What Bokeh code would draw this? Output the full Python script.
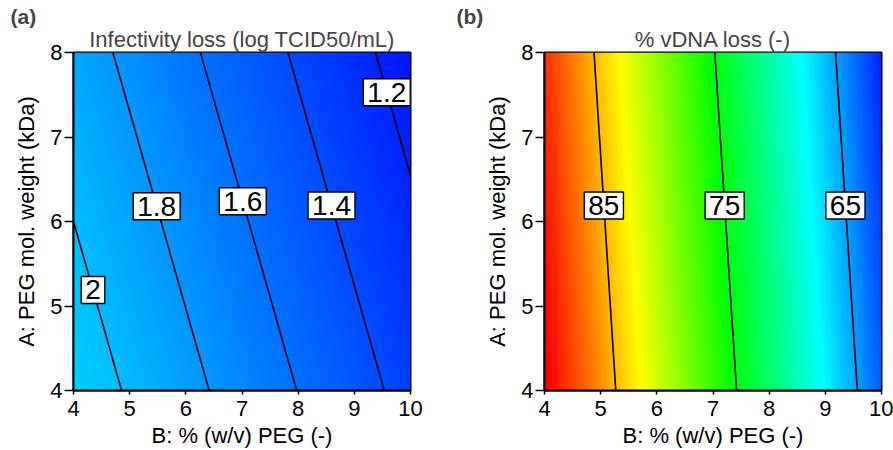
import numpy as np
from bokeh.plotting import figure
from bokeh.models import Range1d, FixedTicker, Label, Title
from bokeh.layouts import row
from bokeh.embed import file_html
from bokeh.resources import INLINE

# ---------------- data ----------------
x_ticks = [4, 5, 6, 7, 8, 9, 10]
y_ticks = [4, 5, 6, 7, 8]
x_edges = [4.0, 10.0]          # B: % (w/v) PEG
y_edges = [4.0, 8.0]           # A: PEG mol. weight (kDa)

# response at the design-space corners: rows = y (4, 8), cols = x (4, 10)
infect_corners = [[2.11, 1.34],
                  [1.89, 1.12]]
infect_levels = [2.0, 1.8, 1.6, 1.4, 1.2]
infect_level_text = ["2", "1.8", "1.6", "1.4", "1.2"]
infect_color_range = [1.01, 6.37]

vdna_corners = [[90.9, 63.0],
                [89.1, 61.2]]
vdna_levels = [85, 75, 65]
vdna_level_text = ["85", "75", "65"]
vdna_color_range = [60.2, 90.5]

# label placement (A value where each contour label sits)
infect_label_y = [5.19, 6.18, 6.24, 6.19, 7.53]
vdna_label_y = [6.19, 6.19, 6.19]

FONT = "Liberation Sans"
STOPS = np.array([(0, 0, 255), (0, 255, 255), (0, 255, 0), (255, 255, 0), (255, 0, 0)], float)


def field(corners, xx, yy):
    c = np.asarray(corners, float)
    tx = (xx - x_edges[0]) / (x_edges[1] - x_edges[0])
    ty = (yy - y_edges[0]) / (y_edges[1] - y_edges[0])
    return (c[0, 0] * (1 - tx) * (1 - ty) + c[0, 1] * tx * (1 - ty)
            + c[1, 0] * (1 - tx) * ty + c[1, 1] * tx * ty)


def colorize(z, lo, hi):
    t = np.clip((z - lo) / (hi - lo), 0, 1) * (len(STOPS) - 1)
    i = np.minimum(np.floor(t).astype(int), len(STOPS) - 2)
    f = (t - i)[..., None]
    rgb = STOPS[i] * (1 - f) + STOPS[i + 1] * f
    img = np.empty(z.shape, dtype=np.uint32)
    v = img.view(dtype=np.uint8).reshape(z.shape + (4,))
    v[..., 0] = rgb[..., 0].round()
    v[..., 1] = rgb[..., 1].round()
    v[..., 2] = rgb[..., 2].round()
    v[..., 3] = 255
    return img


def contour_x(corners, level, ys):
    c = np.asarray(corners, float)
    ty = (ys - y_edges[0]) / (y_edges[1] - y_edges[0])
    fl = c[0, 0] * (1 - ty) + c[1, 0] * ty
    fr = c[0, 1] * (1 - ty) + c[1, 1] * ty
    return x_edges[0] + (x_edges[1] - x_edges[0]) * (level - fl) / (fr - fl)


def make_panel(title, tag, corners, levels, texts, label_y, crange, width, left, right):
    p = figure(width=width, height=450, output_backend="svg", toolbar_location=None,
               x_range=Range1d(*x_edges), y_range=Range1d(*y_edges),
               min_border_left=left, min_border_right=right,
               min_border_top=52, min_border_bottom=60)
    # outer title: panel tag
    p.title.text = tag
    p.title.align = "left"
    p.title.offset = -(left - 10)
    p.title.text_font = FONT
    p.title.text_font_size = "21px"
    p.title.text_font_style = "bold"
    p.title.standoff = -8
    # inner title: centered chart title
    p.add_layout(Title(text=title, align="center", text_font=FONT, text_font_size="22px",
                       text_font_style="normal", standoff=2), "above")

    nx, ny = 400, 280
    xs = np.linspace(x_edges[0], x_edges[1], nx)
    ys = np.linspace(y_edges[0], y_edges[1], ny)
    XX, YY = np.meshgrid(xs, ys)
    img = colorize(field(corners, XX, YY), *crange)
    p.image_rgba(image=[img], x=x_edges[0], y=y_edges[0],
                 dw=x_edges[1] - x_edges[0], dh=y_edges[1] - y_edges[0])

    yl = np.linspace(y_edges[0], y_edges[1], 50)
    for lev, txt, ly in zip(levels, texts, label_y):
        xl = contour_x(corners, lev, yl)
        p.line(xl, yl, line_color="black", line_width=1.6)
        lx = float(contour_x(corners, lev, np.array([ly]))[0])
        p.add_layout(Label(x=lx, y=ly, text=txt, text_align="center", text_baseline="middle",
                           text_font=FONT, text_font_size="28px", text_color="black",
                           background_fill_color="white", border_line_color="black",
                           border_line_width=1.4, padding=4))

    p.grid.visible = False
    p.outline_line_color = "black"
    p.outline_line_width = 2
    for ax, ticks in ((p.xaxis, x_ticks), (p.yaxis, y_ticks)):
        ax.ticker = FixedTicker(ticks=ticks)
        ax.minor_tick_line_color = None
        ax.major_tick_in = 0
        ax.axis_line_color = "black"
        ax.axis_line_width = 2
        ax.major_tick_line_color = "black"
        ax.major_tick_line_width = 1.5
        ax.major_label_text_font = FONT
        ax.major_label_text_font_size = "22px"
        ax.major_label_text_color = "black"
        ax.axis_label_text_font = FONT
        ax.axis_label_text_font_size = "22px"
        ax.axis_label_text_font_style = "normal"
        ax.axis_label_text_color = "black"
    p.xaxis.axis_label = "B: % (w/v) PEG (-)"
    p.yaxis.axis_label = "A: PEG mol. weight (kDa)"
    p.xaxis.major_tick_out = 4
    p.yaxis.major_tick_out = 9
    p.xaxis.major_label_standoff = 6
    p.yaxis.major_label_standoff = 2
    p.xaxis.axis_label_standoff = 4
    p.yaxis.axis_label_standoff = 8
    return p


pa = make_panel("Infectivity loss (log TCID50/mL)", "(a)", infect_corners, infect_levels,
                infect_level_text, infect_label_y, infect_color_range, 446, 73, 36)
pb = make_panel("% vDNA loss (-)", "(b)", vdna_corners, vdna_levels,
                vdna_level_text, vdna_label_y, vdna_color_range, 447, 98, 12)

layout = row(pa, pb)
open("out.html", "w").write(file_html(layout, INLINE))
